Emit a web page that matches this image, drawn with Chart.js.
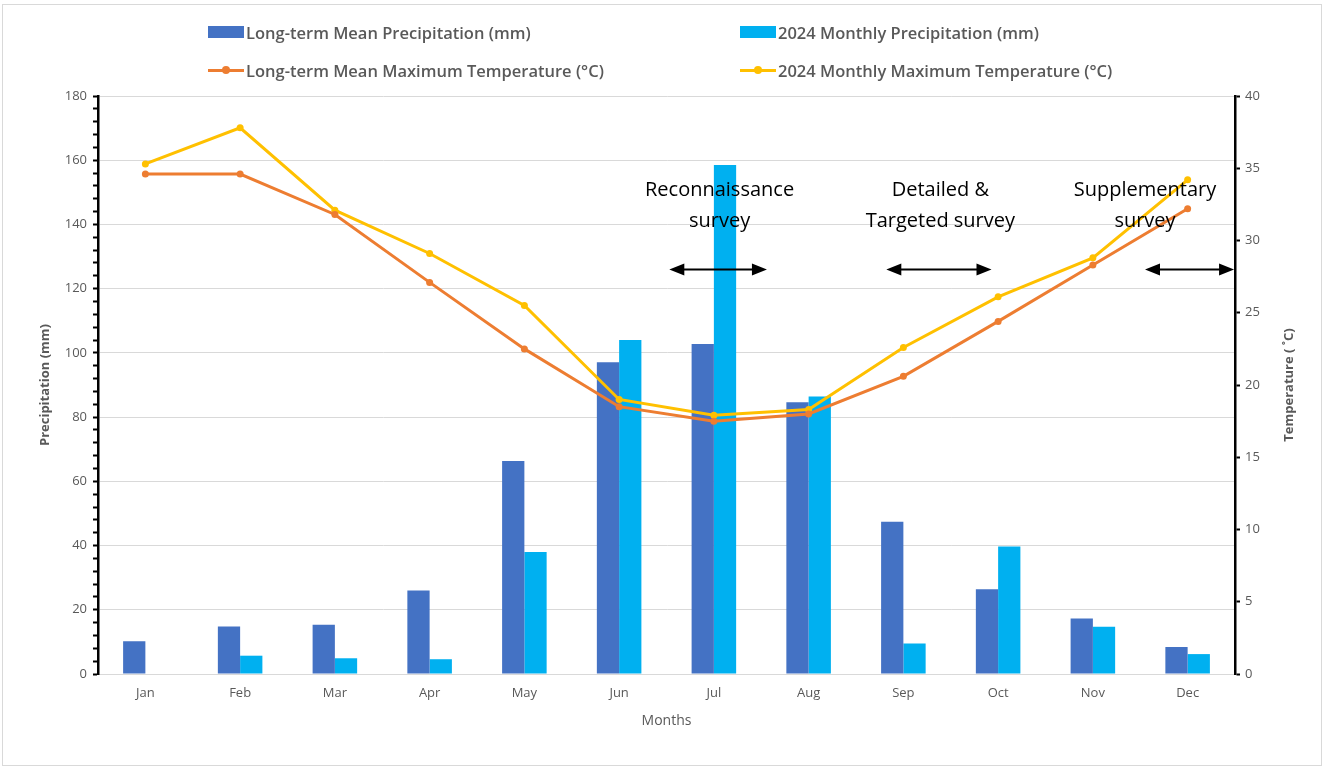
<!DOCTYPE html>
<html>
<head>
<meta charset="utf-8">
<script src="https://cdn.jsdelivr.net/npm/chart.js@4.4.1/dist/chart.umd.min.js"></script>
<style>
  html, body { margin: 0; padding: 0; background: #fff; }
  #wrap { position: relative; width: 1328px; height: 771px; overflow: hidden; }
  #frame { position: absolute; left: 2px; top: 4px; width: 1320px; height: 762px; border: 1px solid #d9d9d9; box-sizing: border-box; }
  #legend { position: absolute; left: 0; top: 0; width: 1328px; height: 90px;
            font-family: "Open Sans", sans-serif; font-size: 16.5px; font-weight: 600; color: #595959; }
  .item { position: absolute; display: flex; align-items: center; height: 22px; white-space: nowrap; }
  .mark { position: relative; width: 36px; height: 12px; margin-right: 2px; }
  .mark .ln { position: absolute; left: 0; right: 0; top: 4.5px; height: 3px; }
  .mark .dot { position: absolute; left: 14px; top: 2px; width: 8px; height: 8px; border-radius: 50%; }
  canvas { position: absolute; left: 0; top: 0; }
</style>
</head>
<body>
<div id="wrap">
  <div id="frame"></div>
  <canvas id="myChart" width="1328" height="771"></canvas>
  <div id="legend"></div>
</div>
<script>
var months = ['Jan', 'Feb', 'Mar', 'Apr', 'May', 'Jun', 'Jul', 'Aug', 'Sep', 'Oct', 'Nov', 'Dec'];
var meanPrecip = [10.2, 14.8, 15.3, 26.0, 66.3, 97.1, 102.8, 84.6, 47.4, 26.4, 17.3, 8.4];
var precip2024 = [0, 5.7, 4.9, 4.6, 38.0, 104.0, 158.5, 86.4, 9.5, 39.7, 14.7, 6.2];
var meanTemp = [34.6, 34.6, 31.8, 27.1, 22.5, 18.5, 17.5, 18.0, 20.6, 24.4, 28.3, 32.2];
var temp2024 = [35.3, 37.8, 32.1, 29.1, 25.5, 19.0, 17.9, 18.3, 22.6, 26.1, 28.8, 34.2];

// survey periods drawn over the plot (x in category units)
var surveys = [
  { lines: ['Reconnaissance', 'survey'], at: 6.06, from: 5.53, to: 6.56 },
  { lines: ['Detailed &', 'Targeted survey'], at: 8.39, from: 7.82, to: 8.93 },
  { lines: ['Supplementary', 'survey'], at: 10.55, from: 10.55, to: 11.49 }
];

var tickFont = { family: 'Open Sans', size: 13 };
var grey = '#595959';

var overlay = {
  id: 'overlay',
  afterDraw: function (chart) {
    var c = chart.ctx;
    var x = chart.scales.x, t = chart.scales.y1, area = chart.chartArea;
    c.save();
    c.fillStyle = '#000';
    c.strokeStyle = '#000';
    c.font = '20px "Open Sans"';
    c.textAlign = 'center';
    c.textBaseline = 'middle';
    surveys.forEach(function (s) {
      var cx = x.getPixelForValue(s.at);
      c.fillText(s.lines[0], cx, t.getPixelForValue(33.5));
      c.fillText(s.lines[1], cx, t.getPixelForValue(31.3));
      var y = t.getPixelForValue(28.0);
      var x1 = x.getPixelForValue(s.from), x2 = x.getPixelForValue(s.to);
      c.lineWidth = 2;
      c.beginPath(); c.moveTo(x1 + 8, y); c.lineTo(x2 - 8, y); c.stroke();
      c.beginPath(); c.moveTo(x1, y); c.lineTo(x1 + 15, y - 6); c.lineTo(x1 + 15, y + 6); c.closePath(); c.fill();
      c.beginPath(); c.moveTo(x2, y); c.lineTo(x2 - 15, y - 6); c.lineTo(x2 - 15, y + 6); c.closePath(); c.fill();
    });
    // right axis title, reading bottom to top
    c.translate(1289, (area.top + area.bottom) / 2);
    c.rotate(-Math.PI / 2);
    c.fillStyle = grey;
    c.font = 'bold 13px "Open Sans"';
    c.fillText('Temperature ( \u02DAC)', 0, 0);
    c.restore();
  }
};

var ctx = document.getElementById('myChart');
var myChart = new Chart(ctx, {
  data: {
    labels: months,
    datasets: [
      { type: 'line', label: 'Long-term Mean Maximum Temperature (\u00B0C)', data: meanTemp, yAxisID: 'y1',
        borderColor: '#ED7D31', backgroundColor: '#ED7D31', borderWidth: 3, pointRadius: 3.5, pointBorderWidth: 0, order: 0 },
      { type: 'line', label: '2024 Monthly Maximum Temperature (\u00B0C)', data: temp2024, yAxisID: 'y1',
        borderColor: '#FFC000', backgroundColor: '#FFC000', borderWidth: 3, pointRadius: 3.5, pointBorderWidth: 0, order: 0 },
      { type: 'bar', label: 'Long-term Mean Precipitation (mm)', data: meanPrecip, yAxisID: 'y',
        backgroundColor: '#4472C4', categoryPercentage: 0.47, barPercentage: 1.0, order: 1 },
      { type: 'bar', label: '2024 Monthly Precipitation (mm)', data: precip2024, yAxisID: 'y',
        backgroundColor: '#00B0F0', categoryPercentage: 0.47, barPercentage: 1.0, order: 1 }
    ]
  },
  options: {
    responsive: false,
    animation: false,
    layout: { padding: { left: 10, right: 10, top: 96, bottom: 37 } },
    plugins: { legend: { display: false }, tooltip: { enabled: false } },
    scales: {
      x: {
        grid: { display: false, drawTicks: true, tickLength: 6 },
        border: { color: '#d9d9d9', width: 1 },
        ticks: { color: grey, font: tickFont, padding: 5 },
        title: { display: true, text: 'Months', color: grey, font: { family: 'Open Sans', size: 14 }, padding: { top: 4, bottom: 5 } },
        afterFit: function (s) { s.height = 60; }
      },
      y: {
        position: 'left',
        min: 0, max: 180,
        grid: {
          color: function (c) { return c.tick && c.tick.value % 20 === 0 ? '#d9d9d9' : 'rgba(0,0,0,0)'; },
          tickColor: '#000', tickWidth: 2, tickLength: 5, lineWidth: 1
        },
        border: { color: '#000', width: 2.5 },
        ticks: {
          stepSize: 4, autoSkip: false, color: grey, font: tickFont, padding: 6,
          callback: function (v) { return v % 20 === 0 ? v : ''; }
        },
        title: { display: true, text: 'Precipitation (mm)', color: grey, font: { family: 'Open Sans', size: 13, weight: 'bold' }, padding: { top: 27, bottom: 0 } },
        afterFit: function (s) { s.width = 88; }
      },
      y1: {
        position: 'right',
        min: 0, max: 40,
        grid: { drawOnChartArea: false, tickColor: '#000', tickWidth: 2, tickLength: 5 },
        border: { color: '#000', width: 2.5 },
        ticks: { stepSize: 5, color: grey, font: tickFont, padding: 5 },
        afterFit: function (s) { s.width = 83; }
      }
    }
  },
  plugins: [overlay]
});

// legend in two columns, built from the datasets
var legendOrder = [2, 3, 0, 1];
var cols = [208, 740], rows = [21, 59];
var legend = document.getElementById('legend');
legendOrder.forEach(function (di, k) {
  var ds = myChart.data.datasets[di];
  var item = document.createElement('div');
  item.className = 'item';
  item.style.left = cols[k % 2] + 'px';
  item.style.top = rows[Math.floor(k / 2)] + 'px';
  var mark = document.createElement('div');
  mark.className = 'mark';
  if (ds.type === 'bar') {
    mark.style.background = ds.backgroundColor;
  } else {
    mark.innerHTML = '<div class="ln" style="background:' + ds.borderColor + '"></div>' +
                     '<div class="dot" style="background:' + ds.borderColor + '"></div>';
  }
  var txt = document.createElement('span');
  txt.textContent = ds.label;
  item.appendChild(mark);
  item.appendChild(txt);
  legend.appendChild(item);
});
</script>
</body>
</html>
